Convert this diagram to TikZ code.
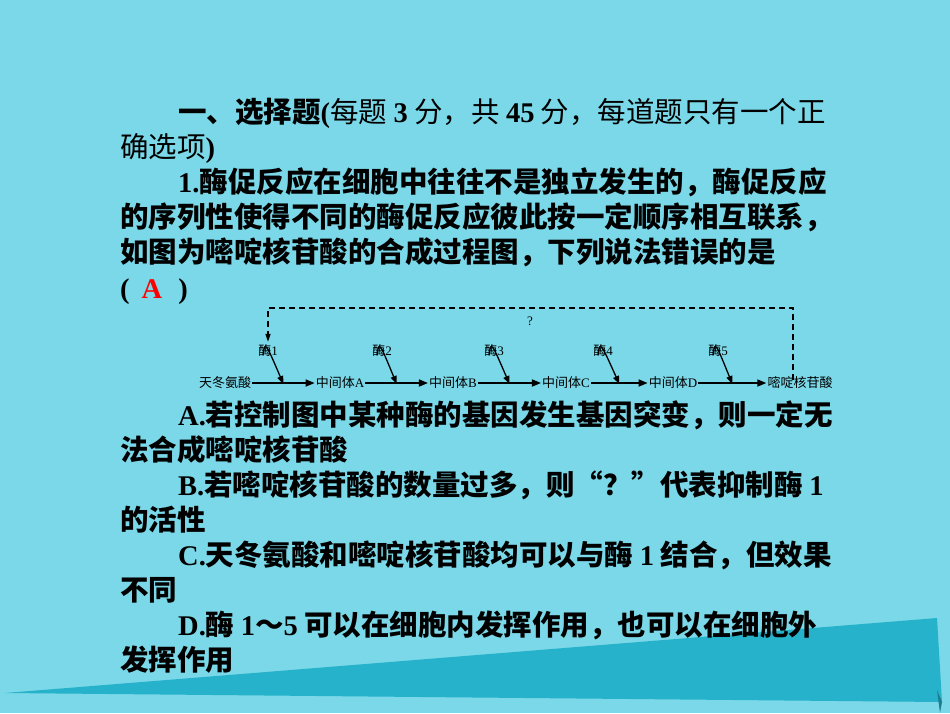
\documentclass[tikz,border=0pt]{standalone}
\usepackage{fontspec}
\setmainfont{Liberation Serif}
\newfontfamily\cjk{Noto Sans CJK SC}
\newfontfamily\lat{Liberation Serif}
\newcommand\LT[1]{{\lat\bfseries #1}}
\usetikzlibrary{arrows.meta}
\definecolor{bg}{HTML}{7AD8E8}
\definecolor{wedge}{HTML}{27B2CB}
\begin{document}
\begin{tikzpicture}[x=1pt,y=-1pt,
  line/.style={anchor=base west,inner sep=0,font=\fontsize{28.5}{28.5}\selectfont\bfseries\cjk},
  nline/.style={anchor=base west,inner sep=0,font=\fontsize{28.5}{28.5}\selectfont\mdseries\cjk},
  sm/.style={inner sep=1pt,font=\fontsize{13}{13}\selectfont\cjk},
  harr/.style={-{Triangle[length=9pt,width=7pt]},line width=1.6pt},
  carr/.style={-{Triangle[length=8pt,width=6pt]},line width=1.3pt}]
\fill[bg] (0,0) rectangle (950,713);
\useasboundingbox (0,0) rectangle (950,713);
\fill[wedge] (5,693) -- (937,618) -- (942,702) -- cycle;
\fill[wedge!70!black] (937,690) -- (942,702) -- (940,713) -- cycle;
\node[nline] (l1) at (178,122) {{\bfseries 一、选择题\LT{(}}每题 \LT{3} 分，共 \LT{45} 分，每道题只有一个正};
\node[nline] (l2) at (120,157) {确选项\LT{)}};
\node[line] (l3) at (178,192) {\LT{1.}酶促反应在细胞中往往不是独立发生的，酶促反应};
\node[line] (l4) at (120,227) {的序列性使得不同的酶促反应彼此按一定顺序相互联系，};
\node[line] (l5) at (120,262) {如图为嘧啶核苷酸的合成过程图，下列说法错误的是};
\node[line] (l6) at (120,298) {\LT{(}\hspace{12pt}{\color{red}\LT{A}}\hspace{16pt}\LT{)}};
\node[line] (la) at (178,425) {\LT{A.}若控制图中某种酶的基因发生基因突变，则一定无};
\node[line] (la2) at (120,460) {法合成嘧啶核苷酸};
\node[line] (lb) at (178,495) {\LT{B.}若嘧啶核苷酸的数量过多，则“？”代表抑制酶 \LT{1}};
\node[line] (lb2) at (120,530) {的活性};
\node[line] (lc) at (178,565) {\LT{C.}天冬氨酸和嘧啶核苷酸均可以与酶 \LT{1} 结合，但效果};
\node[line] (lc2) at (120,600) {不同};
\node[line] (ld) at (178,635) {\LT{D.}酶 \LT{1}～\LT{5} 可以在细胞内发挥作用，也可以在细胞外};
\node[line] (ld2) at (120,670) {发挥作用};
% diagram
\node[sm] (s0) at (225,383) {天冬氨酸};
\node[sm] (s1) at (340,383) {中间体\lat A};
\node[sm] (s2) at (453,383) {中间体\lat B};
\node[sm] (s3) at (566,383) {中间体\lat C};
\node[sm] (s4) at (673,383) {中间体\lat D};
\node[sm] (s5) at (800,383) {嘧啶核苷酸};
\foreach \i/\x in {1/268,2/382,3/494,4/603,5/718}{\node[sm] (e\i) at (\x,351) {酶{\lat\i}};}
\foreach \a/\b/\e in {s0/s1/e1,s1/s2/e2,s2/s3/e3,s3/s4/e4,s4/s5/e5}{
  \draw[harr] (\a.east) -- (\b.west) coordinate[pos=0.5] (m\a);
  \draw[carr] ([xshift=-5pt,yshift=3pt]\e.south) .. controls ([xshift=-3pt,yshift=17pt]\e.south) .. ([yshift=-1pt]m\a);}
\coordinate (c1) at (268,308);
\coordinate (c2) at (793,308);
\coordinate (c3) at (793,380);
\draw[dash pattern=on 6pt off 4pt,line width=1.4pt,-{Triangle[length=8pt,width=5pt]}] (c3) -- (c2) -- (c1) -- ([yshift=2pt]e1.north);
\node[sm] (q) at (530,321) {\lat ?};
\end{tikzpicture}
\end{document}
